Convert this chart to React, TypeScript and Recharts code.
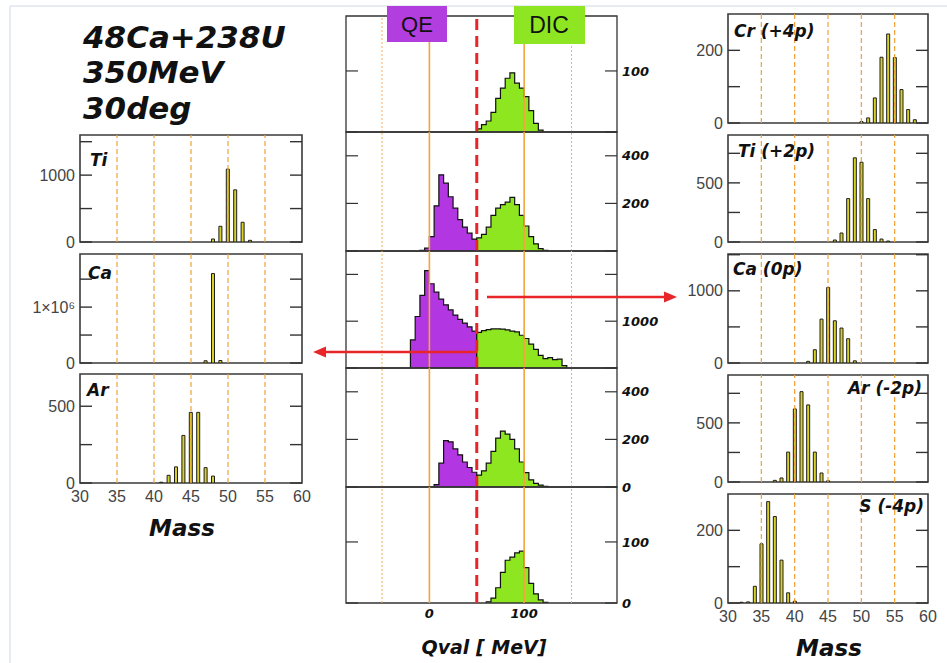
import React from 'react';
import { ComposedChart, Area, Bar, XAxis, YAxis, ReferenceLine, ReferenceArea } from 'recharts';

const SANS = '"Liberation Sans", Arial, sans-serif';
const BOLD = '"DejaVu Sans", Verdana, sans-serif';

// mass axis
const MASS_TICKS = [30, 35, 40, 45, 50, 55, 60];
const MASS_GUIDES = [35, 40, 45, 50, 55];

// left column: fragments gated on QE
const tiQeMass = [48, 49, 50, 51, 52, 53];
const tiQeCounts = [45, 235, 1090, 780, 295, 25];
const caQeMass = [47, 48, 49];
const caQeCounts = [40000, 1600000, 45000];
const arQeMass = [41, 42, 43, 44, 45, 46, 47, 48];
const arQeCounts = [5, 50, 105, 310, 460, 460, 100, 45];

// right column: fragments gated on DIC
const crMass = [50, 51, 52, 53, 54, 55, 56, 57, 58];
const crCounts = [4, 14, 69, 181, 245, 180, 92, 37, 9];
const tiMass = [46, 47, 48, 49, 50, 51, 52, 53, 54];
const tiCounts = [17, 76, 367, 712, 675, 367, 105, 25, 8];
const caMass = [42, 43, 44, 45, 46, 47, 48, 49];
const caCounts = [23, 184, 608, 1046, 585, 484, 336, 30];
const arMass = [37, 38, 39, 40, 41, 42, 43, 44, 45];
const arCounts = [14, 34, 253, 618, 764, 652, 253, 76, 10];
const sMass = [32, 33, 34, 35, 36, 37, 38, 39, 40];
const sCounts = [2, 3, 46, 163, 279, 238, 118, 28, 5];

// Qval histograms, 5 MeV bins (QE below 50 MeV, DIC above)
const BIN = 5;
const q1DicFrom = 50;
const q1Dic = [5, 12, 18, 32, 55, 72, 88, 97, 80, 72, 58, 35, 14, 3];
const q2QeFrom = -10;
const q2Qe = [3, 12, 60, 190, 320, 285, 228, 180, 132, 100, 75, 50];
const q2Dic = [55, 70, 100, 150, 180, 195, 205, 225, 195, 150, 105, 60, 30, 10, 3];
const q3QeFrom = -20;
const q3Qe = [600, 1100, 1550, 2080, 1800, 1620, 1470, 1350, 1240, 1130, 1040, 960, 880, 790];
const q3Dic = [760, 800, 820, 835, 835, 830, 815, 790, 770, 700, 630, 510, 400, 270, 200, 220, 180, 190, 50];
const q4QeFrom = 5;
const q4Qe = [10, 100, 195, 190, 160, 135, 105, 82, 62];
const q4Dic = [50, 68, 100, 150, 205, 235, 222, 200, 160, 105, 60, 30, 15, 8, 3];
const q5DicFrom = 60;
const q5Dic = [2, 8, 25, 50, 70, 75, 82, 85, 58, 32, 15, 5, 1];

type Row = { q: number; qe: number | null; dic: number | null };

function histRows(qeFrom: number, qe: number[], dicFrom: number, dic: number[]): Row[] {
  const rows: Row[] = [];
  if (qe.length) {
    rows.push({ q: qeFrom, qe: 0, dic: null });
    qe.forEach((v, i) => rows.push({ q: qeFrom + BIN * i, qe: v, dic: null }));
    rows.push({ q: qeFrom + BIN * qe.length, qe: 0, dic: null });
  }
  rows.push({ q: dicFrom, qe: null, dic: 0 });
  dic.forEach((v, i) => rows.push({ q: dicFrom + BIN * i, qe: null, dic: v }));
  rows.push({ q: dicFrom + BIN * dic.length, qe: null, dic: 0 });
  return rows;
}

const labelOf = (shown: number[], fmt?: (v: number) => string) => (v: number) =>
  shown.includes(v) ? (fmt ? fmt(v) : String(v)) : '';

type MassProps = {
  left: number;
  top: number;
  width: number;
  height: number;
  mass: number[];
  counts: number[];
  yMax: number;
  ticks: number[];
  shown: number[];
  fmt?: (v: number) => string;
  withX?: boolean;
};

const MassPanel = ({ left, top, width, height, mass, counts, yMax, ticks, shown, fmt, withX }: MassProps) => {
  const rows = mass.map((m, i) => ({ m, n: counts[i] }));
  const axisW = 60;
  return (
    <div style={{ position: 'absolute', left: left - axisW, top }}>
      <ComposedChart
        width={axisW + width + 2}
        height={height + (withX ? 28 : 0)}
        data={rows}
        margin={{ top: 0, right: 0, bottom: 0, left: 0 }}
      >
        <XAxis
          type="number"
          dataKey="m"
          domain={[30, 60]}
          ticks={MASS_TICKS}
          interval={0}
          hide={!withX}
          height={28}
          tickLine={false}
          axisLine={false}
          tickSize={0}
          tickMargin={8}
          allowDataOverflow
          tick={{ fontSize: 16, fontFamily: SANS, fill: '#444' }}
        />
        <YAxis
          yAxisId="l"
          type="number"
          domain={[0, yMax]}
          ticks={ticks}
          interval={0}
          width={axisW}
          tickSize={-12}
          tickMargin={17}
          axisLine={false}
          tickLine={{ stroke: '#333', strokeWidth: 1.4 }}
          tickFormatter={labelOf(shown, fmt)}
          allowDataOverflow
          tick={{ fontSize: 16, fontFamily: SANS, fill: '#444' }}
        />
        <YAxis
          yAxisId="r"
          orientation="right"
          type="number"
          domain={[0, yMax]}
          ticks={ticks}
          interval={0}
          width={2}
          tickSize={-12}
          axisLine={false}
          tickLine={{ stroke: '#333', strokeWidth: 1.4 }}
          tickFormatter={() => ''}
          allowDataOverflow
        />
        {MASS_GUIDES.map((v) => (
          <ReferenceLine key={v} yAxisId="l" x={v} stroke="#f0a232" strokeWidth={1.2} strokeDasharray="5 3" />
        ))}
        <Bar yAxisId="l" dataKey="n" barSize={3} fill="#d8d02a" stroke="#1e1e1e" strokeWidth={1} isAnimationActive={false} />
        <ReferenceArea yAxisId="l" x1={30} x2={60} y1={0} y2={yMax} fill="#fff" fillOpacity={0} stroke="#3a3a3a" strokeWidth={1.6} />
      </ComposedChart>
    </div>
  );
};

type QProps = {
  top: number;
  height: number;
  rows: Row[];
  yMax: number;
  ticks: number[];
  shown: number[];
  withX?: boolean;
};

const QvalPanel = ({ top, height, rows, yMax, ticks, shown, withX }: QProps) => {
  const leftW = 10;
  const rightW = 40;
  const boldTick = { fontSize: 13, fontFamily: BOLD, fontWeight: 'bold', fontStyle: 'italic', fill: '#111' };
  return (
    <div style={{ position: 'absolute', left: 346 - leftW, top }}>
      <ComposedChart
        width={leftW + 271 + rightW}
        height={height + (withX ? 24 : 0)}
        data={rows}
        margin={{ top: 0, right: 0, bottom: 0, left: 0 }}
      >
        <XAxis
          type="number"
          dataKey="q"
          domain={[-88, 198]}
          ticks={[0, 100]}
          interval={0}
          hide={!withX}
          height={24}
          tickLine={false}
          axisLine={false}
          tickSize={0}
          tickMargin={6}
          allowDataOverflow
          tick={boldTick}
        />
        <YAxis
          yAxisId="l"
          type="number"
          domain={[0, yMax]}
          ticks={ticks}
          interval={0}
          width={leftW}
          tickSize={-12}
          axisLine={false}
          tickLine={{ stroke: '#333', strokeWidth: 1.2 }}
          tickFormatter={() => ''}
          allowDataOverflow
        />
        <YAxis
          yAxisId="r"
          orientation="right"
          type="number"
          domain={[0, yMax]}
          ticks={ticks}
          interval={0}
          width={rightW}
          tickSize={-12}
          tickMargin={17}
          axisLine={false}
          tickLine={{ stroke: '#333', strokeWidth: 1.2 }}
          tickFormatter={labelOf(shown)}
          allowDataOverflow
          tick={boldTick}
        />
        <Area yAxisId="l" type="stepAfter" dataKey="qe" stroke="#111" strokeWidth={1.2} fill="#b236e2" fillOpacity={1} dot={false} activeDot={false} isAnimationActive={false} />
        <Area yAxisId="l" type="stepAfter" dataKey="dic" stroke="#111" strokeWidth={1.2} fill="#8de620" fillOpacity={1} dot={false} activeDot={false} isAnimationActive={false} />
        <ReferenceLine yAxisId="l" x={-50} stroke="#f4b455" strokeWidth={1} strokeDasharray="2 2" />
        <ReferenceLine yAxisId="l" x={150} stroke="#f4b455" strokeWidth={1} strokeDasharray="2 2" />
        <ReferenceLine yAxisId="l" x={0} stroke="#f3a43a" strokeWidth={1.6} />
        <ReferenceLine yAxisId="l" x={100} stroke="#f3a43a" strokeWidth={1.6} />
        <ReferenceLine yAxisId="l" x={50} stroke="#e8262a" strokeWidth={3} strokeDasharray="11 6" />
        <ReferenceArea yAxisId="l" x1={-88} x2={198} y1={0} y2={yMax} fill="#fff" fillOpacity={0} stroke="#333" strokeWidth={1.3} />
      </ComposedChart>
    </div>
  );
};

const sup6 = (v: number) => (v === 0 ? '0' : '1×10⁶');

export default function App() {
  const boldIt = { fontFamily: BOLD, fontWeight: 'bold' as const, fontStyle: 'italic' as const, fill: '#111' };
  return (
    <div style={{ position: 'absolute', left: 0, top: 0, width: 947, height: 663, background: '#fff', overflow: 'hidden' }}>
      <style>{'.recharts-surface{overflow:visible}'}</style>

      {/* left column */}
      <MassPanel left={80} top={135} width={222} height={107} mass={tiQeMass} counts={tiQeCounts} yMax={1600} ticks={[0, 500, 1000, 1500]} shown={[0, 1000]} />
      <MassPanel left={80} top={254} width={222} height={109} mass={caQeMass} counts={caQeCounts} yMax={1950000} ticks={[0, 500000, 1000000, 1500000]} shown={[0, 1000000]} fmt={sup6} />
      <MassPanel left={80} top={374} width={222} height={109} mass={arQeMass} counts={arQeCounts} yMax={710} ticks={[0, 250, 500]} shown={[0, 500]} withX />

      {/* middle column */}
      <QvalPanel top={16} height={116} rows={histRows(0, [], q1DicFrom, q1Dic)} yMax={190} ticks={[0, 100]} shown={[100]} />
      <QvalPanel top={132} height={119} rows={histRows(q2QeFrom, q2Qe, 50, q2Dic)} yMax={500} ticks={[0, 200, 400]} shown={[200, 400]} />
      <QvalPanel top={251} height={117} rows={histRows(q3QeFrom, q3Qe, 50, q3Dic)} yMax={2500} ticks={[0, 1000, 2000]} shown={[1000]} />
      <QvalPanel top={368} height={119} rows={histRows(q4QeFrom, q4Qe, 50, q4Dic)} yMax={500} ticks={[0, 200, 400]} shown={[0, 200, 400]} />
      <QvalPanel top={487} height={116} rows={histRows(0, [], q5DicFrom, q5Dic)} yMax={190} ticks={[0, 100]} shown={[0, 100]} withX />

      {/* right column */}
      <MassPanel left={728} top={14} width={200} height={109} mass={crMass} counts={crCounts} yMax={300} ticks={[0, 100, 200]} shown={[0, 200]} />
      <MassPanel left={728} top={135} width={200} height={107} mass={tiMass} counts={tiCounts} yMax={905} ticks={[0, 250, 500, 750]} shown={[0, 500]} />
      <MassPanel left={728} top={254} width={200} height={109} mass={caMass} counts={caCounts} yMax={1510} ticks={[0, 500, 1000, 1500]} shown={[0, 1000]} />
      <MassPanel left={728} top={375} width={200} height={107} mass={arMass} counts={arCounts} yMax={905} ticks={[0, 250, 500, 750]} shown={[0, 500]} />
      <MassPanel left={728} top={494} width={200} height={109} mass={sMass} counts={sCounts} yMax={300} ticks={[0, 100, 200]} shown={[0, 200]} withX />

      <svg width={947} height={663} style={{ position: 'absolute', left: 0, top: 0, pointerEvents: 'none' }}>
        <line x1={10} y1={6} x2={947} y2={6} stroke="#dfe6ee" strokeWidth={1.5} />
        <line x1={10} y1={6} x2={10} y2={663} stroke="#dfe6ee" strokeWidth={1.5} />

        <text x={83} y={48} fontSize={31} {...boldIt}>48Ca+238U</text>
        <text x={83} y={83} fontSize={31} {...boldIt}>350MeV</text>
        <text x={83} y={119} fontSize={31} {...boldIt}>30deg</text>

        <text x={90} y={166} fontSize={17} {...boldIt}>Ti</text>
        <text x={88} y={279} fontSize={17} {...boldIt}>Ca</text>
        <text x={87} y={396} fontSize={17} {...boldIt}>Ar</text>

        <text x={734} y={37} fontSize={17} {...boldIt}>Cr (+4p)</text>
        <text x={738} y={157} fontSize={17} {...boldIt}>Ti (+2p)</text>
        <text x={733} y={275} fontSize={17} {...boldIt}>Ca (0p)</text>
        <text x={922} y={394} fontSize={17} textAnchor="end" {...boldIt}>Ar (-2p)</text>
        <text x={924} y={512} fontSize={17} textAnchor="end" {...boldIt}>S (-4p)</text>

        <text x={182} y={536} fontSize={23} textAnchor="middle" {...boldIt}>Mass</text>
        <text x={829} y={656} fontSize={23} textAnchor="middle" {...boldIt}>Mass</text>
        <text x={484} y={654} fontSize={19} textAnchor="middle" {...boldIt}>Qval [ MeV]</text>

        <rect x={387} y={6} width={60} height={36} fill="#b23ee0" />
        <text x={417} y={32} fontSize={22} textAnchor="middle" fontFamily={SANS} fill="#111">QE</text>
        <rect x={514} y={6} width={71} height={38} fill="#8ee622" />
        <text x={549} y={33} fontSize={23} textAnchor="middle" fontFamily={SANS} fill="#111">DIC</text>

        <line x1={487} y1={297} x2={666} y2={297} stroke="#e8262a" strokeWidth={2.5} />
        <polygon points="677,297 664,291.5 664,302.5" fill="#e8262a" />
        <line x1={477} y1={352} x2={324} y2={352} stroke="#e8262a" strokeWidth={2.5} />
        <polygon points="313,352 326,346.5 326,357.5" fill="#e8262a" />
      </svg>
    </div>
  );
}
